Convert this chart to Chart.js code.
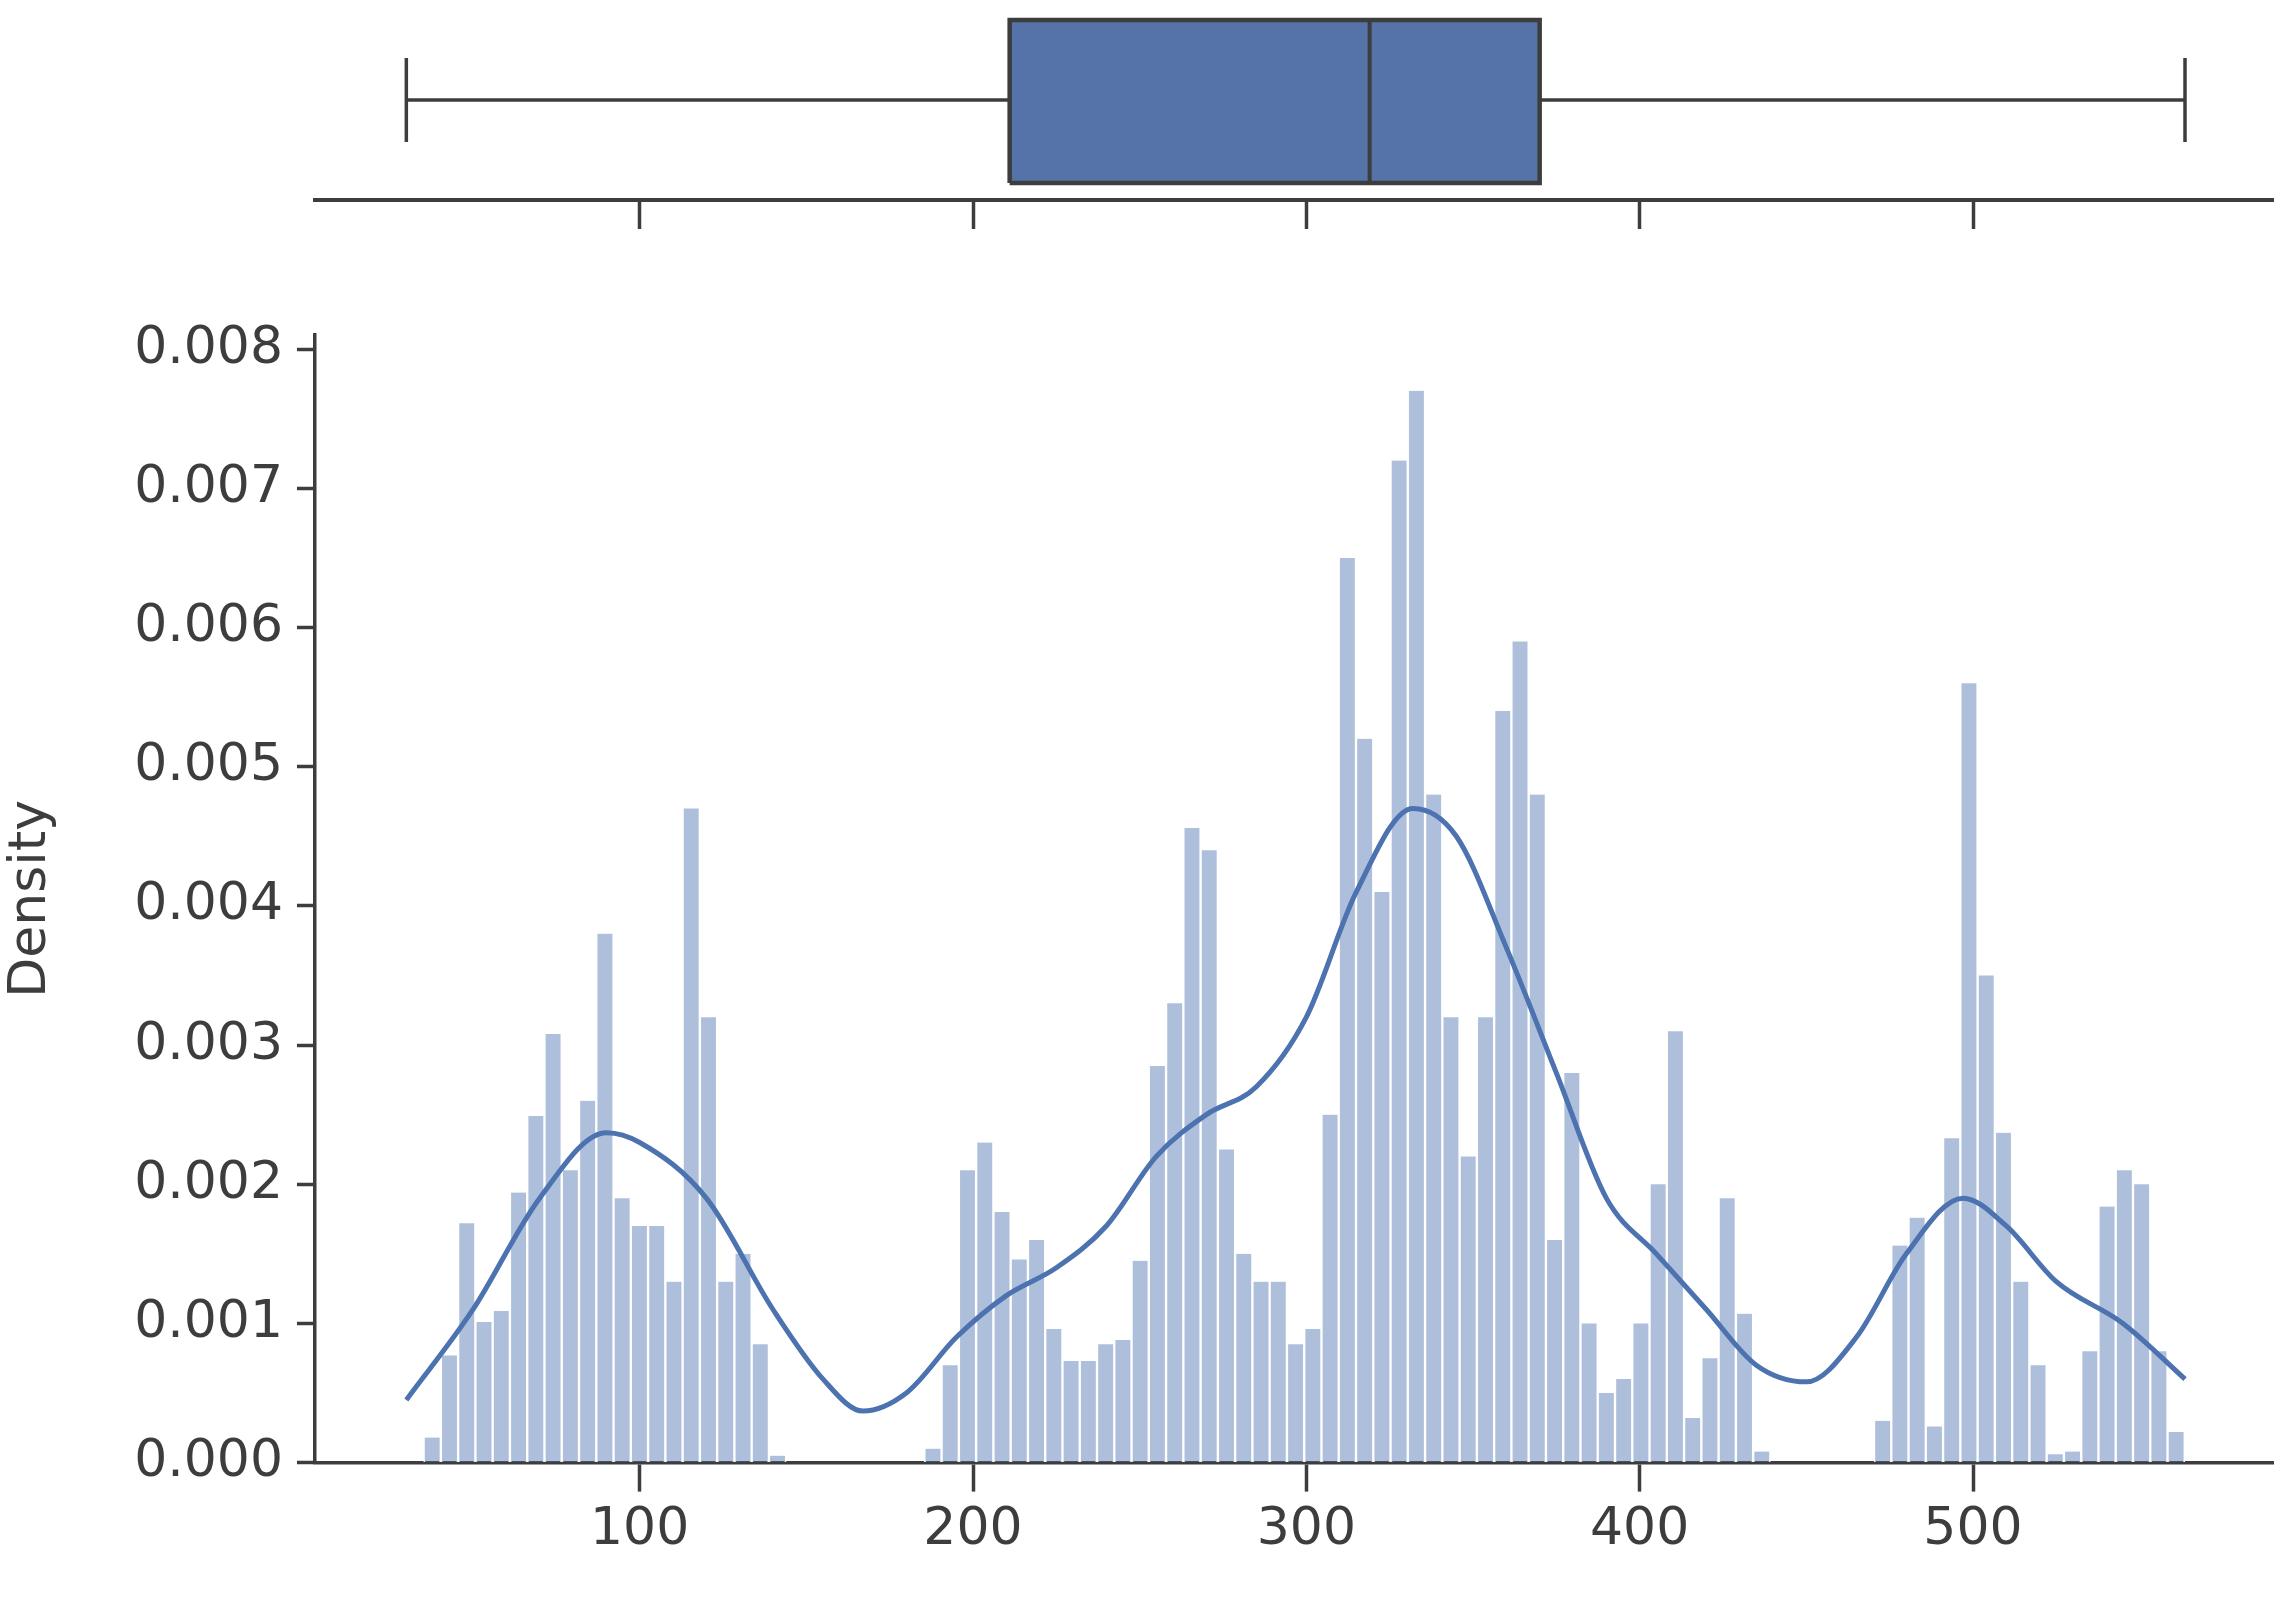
<!DOCTYPE html>
<html><head><meta charset="utf-8">
<script src="https://cdn.jsdelivr.net/npm/chart.js@4/dist/chart.umd.min.js"></script>
<style>
html,body{margin:0;padding:0;background:#fff;}
#wrap{position:relative;width:2292px;height:1610px;}
#top{position:absolute;left:0;top:0;}
#main{position:absolute;left:0;top:290px;}
</style></head><body>
<div id="wrap"><canvas id="top" width="2292" height="260"></canvas><canvas id="main" width="2292" height="1290"></canvas></div>
<script>
const binStart = 30;
const binWidth = 5.18;
const densities = [
0, 0.00018,0.00077,0.00172,0.00101,0.00109,0.00194,0.00249,0.00308,0.0021,0.0026,
0.0038,0.0019,0.0017,0.0017,0.0013,0.0047,0.0032,0.0013,0.0015,0.00085,0.00005,
0,0,0,0,0,0,0,0,
0.0001,0.0007,0.0021,0.0023,0.0018,0.00146,0.0016,0.00096,0.00073,0.00073,0.00085,0.00088,
0.00145,0.00285,0.0033,0.00456,0.0044,0.00225,0.0015,0.0013,0.0013,0.00085,0.00096,0.0025,
0.0065,0.0052,0.0041,0.0072,0.0077,0.0048,0.0032,0.0022,0.0032,0.0054,0.0059,0.0048,
0.0016,0.0028,0.001,0.0005,0.0006,0.001,0.002,0.0031,
0.00032,0.00075,0.0019,0.00107,0.00008,
0,0,0,0,0,0,
0.0003,0.00156,0.00176,0.00026,0.00233,0.0056,0.0035,0.00237,0.0013,0.0007,0.00006,0.00008,
0.0008,0.00184,0.0021,0.002,0.0008,0.00022
];
const kdeX = [30,50,70,90,100,120,140,155,167,180,195,210,225,240,255,270,285,300,315,332,345,360,375,390,405,420,435,450,465,480,497,510,525,545,563.6];
const kdeY = [0.00045,0.0011,0.0019,0.00237,0.0023,0.0019,0.0011,0.0006,0.00037,0.0005,0.0009,0.0012,0.0014,0.0017,0.0022,0.0025,0.0027,0.0032,0.0041,0.0047,0.0045,0.0037,0.0028,0.0019,0.0015,0.0011,0.0007,0.00058,0.0009,0.0015,0.0019,0.0017,0.0013,0.001,0.0006];
const boxStats = {min:30, q1:211, median:319, q3:370, max:563.6};
const xTicks = [100,200,300,400,500];
const yTicks = [0,0.001,0.002,0.003,0.004,0.005,0.006,0.007,0.008];

const XMIN = 2.6, XMAX = 590;
const INK = '#3d3d3d';
const FONT = {family:'DejaVu Sans', size:52};
Chart.defaults.color = INK;
Chart.defaults.font = FONT;

const barData = densities.map((d,i)=>({x: binStart + binWidth*(i+0.5), y: d}));
const kdeData = kdeX.map((x,i)=>({x, y: kdeY[i]}));

new Chart(document.getElementById('main'), {
  data: {datasets: [
    {type:'line', data: kdeData, borderColor:'#4c72b0', borderWidth:5, pointRadius:0, cubicInterpolationMode:'monotone', fill:false, order:0},
    {type:'bar', data: barData, backgroundColor:'rgba(76,114,176,0.45)', borderColor:'rgba(255,255,255,0.9)', borderWidth:{left:1.5,right:1.5,top:0,bottom:0}, barPercentage:1, categoryPercentage:1, order:1}
  ]},
  options: {
    responsive:false, animation:false, devicePixelRatio:1,
    layout:{padding:{top:30,right:19,left:0,bottom:10}},
    plugins:{legend:{display:false}, tooltip:{enabled:false}},
    scales:{
      x:{type:'linear', min:XMIN, max:XMAX, offset:false,
        afterBuildTicks: s=>{ s.ticks = xTicks.map(v=>({value:v})); },
        ticks:{padding:8, font:FONT, color:INK, maxRotation:0},
        grid:{display:true, offset:false, drawOnChartArea:false, drawTicks:true, tickLength:29, tickWidth:3.5, color:INK},
        border:{display:true, color:INK, width:3.5}},
      y:{type:'linear', min:0, max:0.0081,
        afterBuildTicks: s=>{ s.ticks = yTicks.map(v=>({value:v})); },
        afterFit: s=>{ s.width = 315; },
        ticks:{padding:14, font:FONT, color:INK, callback:v=>v.toFixed(3)},
        title:{display:true, text:'Density', font:FONT, color:INK, padding:{top:0,bottom:6}},
        grid:{display:true, drawOnChartArea:false, drawTicks:true, tickLength:18, tickWidth:3.5, color:INK},
        border:{display:true, color:INK, width:3.5}}
    }
  }
});

const b = boxStats;
const boxPoly = [{x:b.q1,y:0.085},{x:b.q3,y:0.085},{x:b.q3,y:0.9},{x:b.q1,y:0.9},{x:b.q1,y:0.085}];
new Chart(document.getElementById('top'), {
  type:'scatter',
  data:{datasets:[
    {data:[{x:b.median,y:0.085},{x:b.median,y:0.9}], showLine:true, borderColor:INK, borderWidth:4, pointRadius:0},
    {data:boxPoly, showLine:true, borderColor:INK, borderWidth:4.5, backgroundColor:'#5573a8', fill:'shape', pointRadius:0, tension:0},
    {data:[{x:b.min,y:0.5},{x:b.q1,y:0.5}], showLine:true, borderColor:INK, borderWidth:3.5, pointRadius:0},
    {data:[{x:b.q3,y:0.5},{x:b.max,y:0.5}], showLine:true, borderColor:INK, borderWidth:3.5, pointRadius:0},
    {data:[{x:b.min,y:0.29},{x:b.min,y:0.71}], showLine:true, borderColor:INK, borderWidth:3.5, pointRadius:0},
    {data:[{x:b.max,y:0.29},{x:b.max,y:0.71}], showLine:true, borderColor:INK, borderWidth:3.5, pointRadius:0}
  ]},
  options:{
    responsive:false, animation:false, devicePixelRatio:1,
    layout:{padding:{top:0,right:19,left:315,bottom:0}},
    plugins:{legend:{display:false}, tooltip:{enabled:false}},
    scales:{
      x:{type:'linear', min:XMIN, max:XMAX,
        afterBuildTicks: s=>{ s.ticks = xTicks.map(v=>({value:v})); },
        afterFit: s=>{ s.height = 60; },
        ticks:{callback:()=>'', font:{size:10}},
        grid:{display:true, drawOnChartArea:false, drawTicks:true, tickLength:29, tickWidth:3.5, color:INK},
        border:{display:true, color:INK, width:4}},
      y:{type:'linear', min:0, max:1, display:false}
    }
  }
});
</script></body></html>
